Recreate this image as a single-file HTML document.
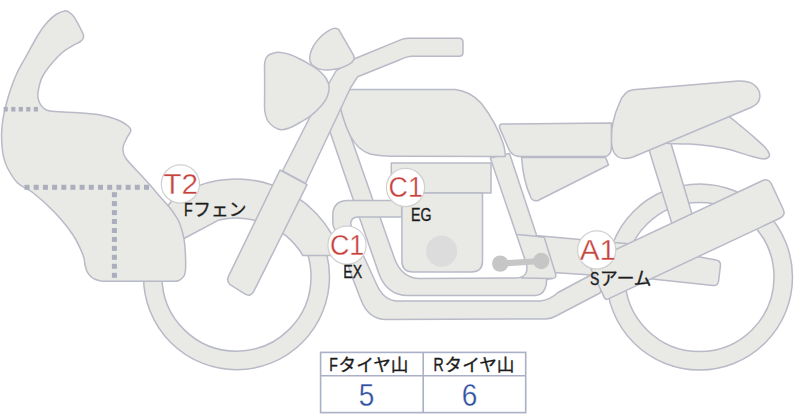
<!DOCTYPE html>
<html lang="ja"><head><meta charset="utf-8"><title>bike</title>
<style>html,body{margin:0;padding:0;background:#fff;overflow:hidden}svg{display:block}
text{font-family:"Liberation Sans","Noto Sans CJK JP",sans-serif}</style></head>
<body><svg width="800" height="414" viewBox="0 0 800 414">
<rect width="800" height="414" fill="#fff"/>
<path d="M606.5,277.0 A93.0,93.0 0 1 0 792.5,277.0 A93.0,93.0 0 1 0 606.5,277.0 Z M625.0,277.0 A74.5,74.5 0 1 1 774.0,277.0 A74.5,74.5 0 1 1 625.0,277.0 Z" fill="#e9e9e5" stroke="#b8bac7" stroke-width="1.5" stroke-linejoin="round" fill-rule="evenodd"/>
<path d="M143.5,276.7 A93.0,93.0 0 1 0 329.5,276.7 A93.0,93.0 0 1 0 143.5,276.7 Z M162.0,276.7 A74.5,74.5 0 1 1 311.0,276.7 A74.5,74.5 0 1 1 162.0,276.7 Z" fill="#e9e9e5" stroke="#b8bac7" stroke-width="1.5" stroke-linejoin="round" fill-rule="evenodd"/>
<path d="M538.0,235.7 L631.0,244.0 L716.1,260.1 Q721.0,261.0 720.4,266.0 L718.6,281.0 Q718.0,286.0 713.0,285.5 L652.0,279.0 L538.0,271.6 Z" fill="#e9e9e5" stroke="#b8bac7" stroke-width="1.5" stroke-linejoin="round" />
<path d="M646.0,140.0 L668.5,135.0 L692.0,214.0 L672.0,224.0 Z" fill="#e9e9e5" stroke="#b8bac7" stroke-width="1.5" stroke-linejoin="round" />
<path d="M658.0,134.0 C652.0,140.4 661.0,140.7 664.0,142.3 C667.0,143.9 671.7,143.5 676.0,143.8 C680.3,144.1 685.7,143.8 690.0,144.0 C694.3,144.2 696.0,144.3 702.0,145.1 C708.0,145.9 718.1,147.0 726.2,148.8 C734.3,150.6 744.4,154.3 750.4,156.0 C756.4,157.7 759.1,158.5 762.0,158.8 C764.9,159.1 766.3,158.7 767.5,158.0 C768.7,157.3 769.8,156.3 769.4,154.5 C769.0,152.7 768.2,150.7 765.0,147.3 C761.8,143.9 754.6,137.7 750.4,134.0 C746.2,130.3 743.4,128.1 740.0,125.3 C736.6,122.5 733.6,120.0 729.9,117.2 C726.2,114.4 723.0,110.7 718.0,108.5 C713.0,106.3 710.0,99.8 700.0,104.0 C690.0,108.2 664.0,127.6 658.0,134.0 Z" fill="#e9e9e5" stroke="#b8bac7" stroke-width="1.5" stroke-linejoin="round" />
<path d="M633,89.7 L738,81 Q756,80.3 759.6,93 Q761.8,102.5 751.5,107.3 L633,157 Q612,164 611.3,140 Q611,122 619,104 Q624,90.5 633,89.7 Z" fill="#e9e9e5" stroke="#b8bac7" stroke-width="1.5" stroke-linejoin="round" />
<path d="M500.0,128.6 Q498.0,124.0 503.0,124.0 L611.4,123.0 L611.4,148.0 Q611.4,152.0 609.2,154.3 L609.1,154.4 Q607.0,156.6 604.0,156.6 L522.0,156.6 Q516.0,156.6 513.0,154.3 L512.4,153.8 Q510.0,152.0 508.8,149.2 Z" fill="#e9e9e5" stroke="#b8bac7" stroke-width="1.5" stroke-linejoin="round" />
<path d="M521.6,157.6 L605.7,157.6 L608.5,165 L538,200.5 Q533,201.5 531,198 Q523,180 521.6,157.6 Z" fill="#e9e9e5" stroke="#b8bac7" stroke-width="1.5" stroke-linejoin="round" />
<path d="M329.4,130 L353.3,199.8 L359.7,218.2 L378.5,272.6 Q386.4,295.6 408,295.6 L535,295.6 Q546.5,294.5 546.7,279.2 L552.5,278.4 Q556.8,278 555.6,274 L544.1,237 L536.9,236.3 L509.5,153.5 L490.3,158 L525.8,262 C528.2,269.5 527.5,277.8 516,277.9 L420,278.5 Q402,278.5 394.5,258.5 L380.3,218 L372.8,199.8 L340.7,108 Z" fill="#e9e9e5" stroke="#b8bac7" stroke-width="1.5" stroke-linejoin="round" />
<path d="M517.2,234.6 L544.1,237 M521,278.1 L552.5,278.4" fill="none" stroke="#b8bac7" stroke-width="1.5" stroke-linejoin="round" />
<path d="M401.7,200.5 L348,200.5 Q332.7,200.5 332.7,216 L333,225 L353.5,280.6 L361,300 Q368.5,319.5 386,319.5 L546,319 Q551,319 556,316 L600,293 L612,262 L588,276.5 L558,292.5 Q550,300 540,301 L398,301 Q383.4,301 376,283 L363.6,256 L350.7,224.5 Q350.7,217 358,217 L401.7,217 Z" fill="#e9e9e5" stroke="#b8bac7" stroke-width="1.5" stroke-linejoin="round" />
<path d="M589.2,265.3 Q587.9,262.6 590.7,261.3 L762.2,180.8 Q768.5,177.8 771.5,184.1 L783.1,209.0 Q786.1,215.4 779.8,218.3 L608.3,298.9 Q605.6,300.2 604.3,297.4 Z" fill="#e9e9e5" stroke="#b8bac7" stroke-width="1.5" stroke-linejoin="round" />
<path d="M391.3,163 H491 V193 H391.3 Z" fill="#e9e9e5" stroke="#b8bac7" stroke-width="1.5" stroke-linejoin="round" />
<path d="M401.9,193.0 L482.5,193.0 L482.5,261.0 Q482.5,272.0 471.5,272.0 L412.9,272.0 Q401.9,272.0 401.9,261.0 Z" fill="#e9e9e5" stroke="#b8bac7" stroke-width="1.5" stroke-linejoin="round" />
<circle cx="441.6" cy="251.2" r="15.6" fill="#dcdcdc"/>
<g fill="#c6c6c6" stroke="none"><circle cx="500.2" cy="263.6" r="8.2"/><circle cx="541.2" cy="261" r="8.2"/><path d="M500.2,263.6 L541.2,261" stroke="#c6c6c6" stroke-width="6.2"/></g>
<path d="M348,89.5 L455,89.5 Q470,91 481,103 Q496,122 503,143 Q505.5,151 505.2,156.5 L400,156.3 Q380,156.3 370,154 Q358,150 351,137 Q345,126 340.4,108 Z" fill="#e9e9e5" stroke="#b8bac7" stroke-width="1.5" stroke-linejoin="round" />
<path d="M336,71 L354,59 L401.7,39.4 Q405,38.2 409,38.2 L459,38.2 Q463,38.2 463,42 L463,52.4 Q463,56.2 459,56.2 L411,56.2 Q405.5,56.7 400,59.7 L357.6,76.8 L350.7,87.5 L305.5,183.5 L282.5,171 L312,113 Z" fill="#e9e9e5" stroke="#b8bac7" stroke-width="1.5" stroke-linejoin="round" />
<path d="M173.0,199.0 A110,110 0 0 1 341.1,255.6 L302.5,255.6 L302.5,254.8 A78,78 0 0 0 219.0,219.9 L184,238.5 L166,238 L160,215 L166.5,208 Z" fill="#e9e9e5" stroke="#b8bac7" stroke-width="1.5" stroke-linejoin="round" />
<path d="M280.0,170.0 L307.0,184.6 L253.9,291.2 Q250.8,297.5 244.8,293.8 L231.7,285.7 Q225.7,282.0 228.8,275.7 Z" fill="#e9e9e5" stroke="#b8bac7" stroke-width="1.5" stroke-linejoin="round" />
<path d="M264.6,75.0 C264.6,69.5 264.3,65.2 264.8,62.0 C265.3,58.8 266.1,57.5 267.5,56.0 C268.9,54.5 270.9,53.8 273.0,53.2 C275.1,52.6 277.5,52.2 280.2,52.4 C282.9,52.6 285.9,53.1 289.2,54.2 C292.5,55.3 296.5,57.2 300.0,59.0 C303.5,60.8 307.1,62.7 310.4,64.8 C313.7,66.9 317.3,69.1 320.0,71.5 C322.7,73.9 325.0,76.5 326.5,79.0 C328.0,81.5 328.9,83.7 329.1,86.5 C329.3,89.3 328.7,92.9 327.5,96.0 C326.3,99.1 324.9,101.7 322.0,105.0 C319.1,108.3 314.1,113.2 310.4,116.1 C306.7,119.0 303.5,120.5 300.0,122.5 C296.5,124.5 292.4,126.8 289.2,128.0 C286.0,129.2 283.5,130.0 281.0,129.8 C278.5,129.6 276.2,128.6 274.0,127.0 C271.8,125.5 269.0,123.2 267.5,120.5 C266.0,117.8 265.3,115.2 264.8,111.0 C264.3,106.8 264.6,101.0 264.6,95.0 C264.6,89.0 264.6,80.5 264.6,75.0 Z" fill="#e9e9e5" stroke="#b8bac7" stroke-width="1.5" stroke-linejoin="round" />
<path d="M309.6,58 C310.5,47 319,36 330,29.8 C333,28.1 336.8,27.9 338.8,29.6 L353.6,55.3 C355.2,58.5 353.5,61.5 349.3,64.2 C343,68 335,70.2 326.1,70 C320,69.8 315,67.7 312,64.7 C310.3,62.7 309.4,60.5 309.6,58 Z" fill="#e9e9e5" stroke="#b8bac7" stroke-width="1.5" stroke-linejoin="round" />
<path d="M64.7,10.9 C67.0,10.6 68.4,11.7 70.0,12.8 C71.6,13.9 72.5,14.7 74.3,17.3 C76.0,19.9 78.9,25.3 80.5,28.5 C82.1,31.7 83.7,34.4 83.7,36.5 C83.7,38.6 82.6,39.9 80.7,41.4 C78.8,42.9 75.8,43.6 72.3,45.8 C68.8,48.0 64.8,49.6 60.0,54.5 C55.2,59.4 47.0,68.7 43.3,75.0 C39.6,81.3 38.7,88.1 38.0,92.5 C37.3,96.9 38.2,99.1 39.0,101.5 C39.8,103.9 40.7,105.4 42.5,107.0 C44.3,108.6 44.6,110.1 50.0,111.0 C55.4,111.9 66.6,111.9 75.0,112.6 C83.4,113.3 93.3,113.8 100.5,115.0 C107.7,116.2 113.5,118.2 118.0,120.0 C122.5,121.8 125.4,123.9 127.5,125.5 C129.6,127.1 130.5,128.2 130.8,129.5 C131.2,130.8 130.2,132.1 129.6,133.5 C129.0,134.9 128.1,135.3 127.0,137.7 C125.9,140.1 123.2,144.6 123.0,148.0 C122.8,151.4 122.6,153.5 125.6,158.0 C128.6,162.5 136.8,170.4 141.0,175.0 C145.2,179.6 147.5,182.1 150.5,185.5 C153.5,188.9 156.0,192.0 159.0,195.5 C162.0,199.0 165.9,203.1 168.6,206.3 C171.3,209.6 173.2,212.2 175.0,215.0 C176.8,217.8 178.1,219.3 179.5,223.0 C180.9,226.7 182.6,232.2 183.6,237.0 C184.6,241.8 185.0,246.8 185.3,252.0 C185.6,257.2 185.8,264.0 185.6,268.0 C185.4,272.0 185.2,273.9 184.0,276.0 C182.8,278.1 180.8,279.9 178.5,280.8 C176.2,281.7 174.8,281.2 170.0,281.3 C165.2,281.4 157.5,281.3 150.0,281.3 C142.5,281.3 132.0,281.3 125.0,281.3 C118.0,281.3 112.0,281.4 108.0,281.3 C104.0,281.2 103.2,281.3 101.0,281.0 C98.8,280.7 96.8,280.1 95.0,279.3 C93.2,278.5 91.8,277.5 90.5,276.2 C89.2,274.9 87.9,273.4 87.0,271.5 C86.1,269.6 85.7,267.8 85.0,265.0 C84.3,262.2 85.0,260.0 83.0,255.0 C81.0,250.0 77.7,242.1 73.0,235.0 C68.3,227.9 61.7,219.8 55.0,212.7 C48.3,205.6 38.9,197.4 32.7,192.5 C26.5,187.6 21.8,187.1 17.6,183.0 C13.4,178.9 9.9,172.5 7.5,168.0 C5.1,163.5 4.3,159.8 3.4,156.0 C2.5,152.2 2.2,148.9 1.9,145.0 C1.6,141.1 1.5,136.7 1.6,132.5 C1.8,128.3 2.2,124.1 2.8,120.0 C3.4,115.9 4.3,112.0 5.3,108.0 C6.2,104.0 7.3,100.0 8.5,96.0 C9.7,92.0 11.1,87.8 12.5,84.0 C13.9,80.2 15.1,77.0 17.0,73.0 C18.9,69.0 20.4,66.4 24.0,60.0 C27.6,53.6 34.5,40.8 38.3,34.5 C42.1,28.2 44.0,25.8 47.0,22.5 C50.0,19.2 53.0,16.4 56.0,14.5 C59.0,12.6 62.4,11.2 64.7,10.9 Z" fill="#e9e9e5" stroke="#b8bac7" stroke-width="1.5" stroke-linejoin="round" />
<g fill="#abaebc"><rect x="3.6" y="106.9" width="4.2" height="4.6"/><rect x="11.2" y="106.9" width="4.2" height="4.6"/><rect x="18.7" y="106.9" width="4.2" height="4.6"/><rect x="26.2" y="106.9" width="4.2" height="4.6"/><rect x="33.8" y="106.9" width="4.2" height="4.6"/><rect x="24.5" y="184.8" width="5" height="5"/><rect x="33.7" y="184.8" width="5" height="5"/><rect x="42.9" y="184.8" width="5" height="5"/><rect x="52.1" y="184.8" width="5" height="5"/><rect x="61.3" y="184.8" width="5" height="5"/><rect x="70.4" y="184.8" width="5" height="5"/><rect x="79.6" y="184.8" width="5" height="5"/><rect x="88.8" y="184.8" width="5" height="5"/><rect x="98.0" y="184.8" width="5" height="5"/><rect x="107.2" y="184.8" width="5" height="5"/><rect x="116.4" y="184.8" width="5" height="5"/><rect x="125.6" y="184.8" width="5" height="5"/><rect x="134.8" y="184.8" width="5" height="5"/><rect x="144.0" y="184.8" width="5" height="5"/><rect x="111.9" y="192.2" width="5" height="5"/><rect x="111.9" y="201.1" width="5" height="5"/><rect x="111.9" y="210.1" width="5" height="5"/><rect x="111.9" y="219.0" width="5" height="5"/><rect x="111.9" y="228.0" width="5" height="5"/><rect x="111.9" y="236.9" width="5" height="5"/><rect x="111.9" y="245.9" width="5" height="5"/><rect x="111.9" y="254.8" width="5" height="5"/><rect x="111.9" y="263.8" width="5" height="5"/><rect x="111.9" y="272.8" width="5" height="5"/></g>
<circle cx="180.4" cy="184" r="19.1" fill="#fff" stroke="#d0d0d0" stroke-width="1.2"/>
<text x="163.3" y="193.8" font-size="30.3" fill="#c6423c" stroke="#fff" stroke-width="0.35" textLength="34.8" lengthAdjust="spacingAndGlyphs">T2</text>
<circle cx="405.5" cy="187.5" r="19.1" fill="#fff" stroke="#d0d0d0" stroke-width="1.2"/>
<text x="388.6" y="197.3" font-size="30.3" fill="#c6423c" stroke="#fff" stroke-width="0.35" textLength="34.3" lengthAdjust="spacingAndGlyphs">C1</text>
<circle cx="347.0" cy="245.2" r="19.1" fill="#fff" stroke="#d0d0d0" stroke-width="1.2"/>
<text x="330.0" y="255.0" font-size="30.3" fill="#c6423c" stroke="#fff" stroke-width="0.35" textLength="34.3" lengthAdjust="spacingAndGlyphs">C1</text>
<circle cx="596.7" cy="250" r="19.1" fill="#fff" stroke="#d0d0d0" stroke-width="1.2"/>
<text x="579.7" y="259.8" font-size="30.3" fill="#c6423c" stroke="#fff" stroke-width="0.35" textLength="36.4" lengthAdjust="spacingAndGlyphs">A1</text>
<text x="184" y="215.8" font-size="17.7" fill="#1c1c1c" stroke="#1c1c1c" stroke-width="0.35" textLength="8.7" lengthAdjust="spacingAndGlyphs">F</text>
<text x="193.3" y="215.8" font-size="17.7" fill="#1c1c1c" stroke="#1c1c1c" stroke-width="0.35">フェン</text>
<text x="411" y="220.7" font-size="17.7" fill="#1c1c1c" stroke="#1c1c1c" stroke-width="0.35" textLength="20.5" lengthAdjust="spacingAndGlyphs">EG</text>
<text x="343.2" y="278.2" font-size="17.7" fill="#1c1c1c" stroke="#1c1c1c" stroke-width="0.35" textLength="18.9" lengthAdjust="spacingAndGlyphs">EX</text>
<text x="590" y="284.5" font-size="17.7" fill="#1c1c1c" stroke="#1c1c1c" stroke-width="0.35" textLength="9.4" lengthAdjust="spacingAndGlyphs">S</text>
<text x="600.0" y="284.5" font-size="17.7" fill="#1c1c1c" stroke="#1c1c1c" stroke-width="0.35">アーム</text>
<g stroke="#aab0c6" stroke-width="1.6" fill="#fff"><rect x="320.6" y="352.4" width="205.1" height="60.2"/><path d="M423.2,352.4 V412.6 M320.6,375.7 H525.7" fill="none"/></g>
<text x="329.2" y="370.6" font-size="17.6" fill="#1c1c1c" stroke="#1c1c1c" stroke-width="0.35" textLength="8.6" lengthAdjust="spacingAndGlyphs">F</text>
<text x="338.6" y="370.6" font-size="17.6" fill="#1c1c1c" stroke="#1c1c1c" stroke-width="0.35">タイヤ山</text>
<text x="433.6" y="370.6" font-size="17.6" fill="#1c1c1c" stroke="#1c1c1c" stroke-width="0.35" textLength="10.2" lengthAdjust="spacingAndGlyphs">R</text>
<text x="444.6" y="370.6" font-size="17.6" fill="#1c1c1c" stroke="#1c1c1c" stroke-width="0.35">タイヤ山</text>
<text x="358.7" y="405.7" font-size="31.5" fill="#3151a0" stroke="#fff" stroke-width="0.3" textLength="15.6" lengthAdjust="spacingAndGlyphs">5</text>
<text x="461.8" y="405.7" font-size="31.5" fill="#3151a0" stroke="#fff" stroke-width="0.3" textLength="15.6" lengthAdjust="spacingAndGlyphs">6</text>
</svg></body></html>
